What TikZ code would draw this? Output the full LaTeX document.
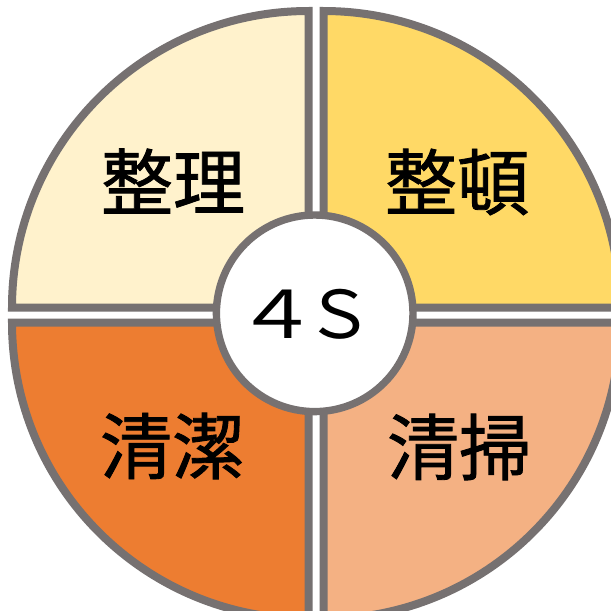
\documentclass[tikz,border=0pt]{standalone}
\usepackage{fontspec}
\newfontfamily\cjk{Noto Sans CJK JP}
\newfontfamily\cjkb{Noto Sans CJK JP}[FakeBold=1.2]
\definecolor{rimgray}{HTML}{767171}
\definecolor{qtl}{HTML}{FFF2CC}
\definecolor{qtr}{HTML}{FFD966}
\definecolor{qbl}{HTML}{ED7D31}
\definecolor{qbr}{HTML}{F4B183}
\begin{document}
\begin{tikzpicture}[x=1pt,y=-1pt,
  sector/.style={draw=rimgray,line width=8pt},
  label4/.style={inner sep=0pt,font=\cjkb\fontsize{72}{72}\selectfont},
  hub/.style={draw=rimgray,fill=white,line width=7.4pt,circle,minimum size=196.6pt,inner sep=0pt}]
\useasboundingbox (0,0) rectangle (611,611);
\fill[white] (0,0) rectangle (611,611);
\def\rr{296.5}
% top-left
\filldraw[sector,fill=qtl] (308.5,307.5) -- ++(180:\rr) arc[start angle=180,end angle=270,radius=\rr] -- cycle;
% top-right
\filldraw[sector,fill=qtr] (323.5,307.5) -- ++(270:\rr) arc[start angle=270,end angle=360,radius=\rr] -- cycle;
% bottom-right
\filldraw[sector,fill=qbr] (323.5,322.5) -- ++(0:\rr) arc[start angle=0,end angle=90,radius=\rr] -- cycle;
% bottom-left
\filldraw[sector,fill=qbl] (308.5,322.5) -- ++(90:\rr) arc[start angle=90,end angle=180,radius=\rr] -- cycle;
\node[hub] (center) at (314.7,313.3) {};
\node[inner sep=0pt,font=\cjk\fontsize{66}{66}\selectfont] (fours) at (305,314) {\scalebox{1.26}[1]{４}\kern-15pt \scalebox{1.06}[1]{Ｓ}};
\node[label4] (seiri) at (173,181) {整理};
\node[label4] (seiton) at (457,182) {整頓};
\node[label4] (seiketsu) at (172,446) {清潔};
\node[label4] (seiso) at (459,447) {清掃};
\end{tikzpicture}
\end{document}
